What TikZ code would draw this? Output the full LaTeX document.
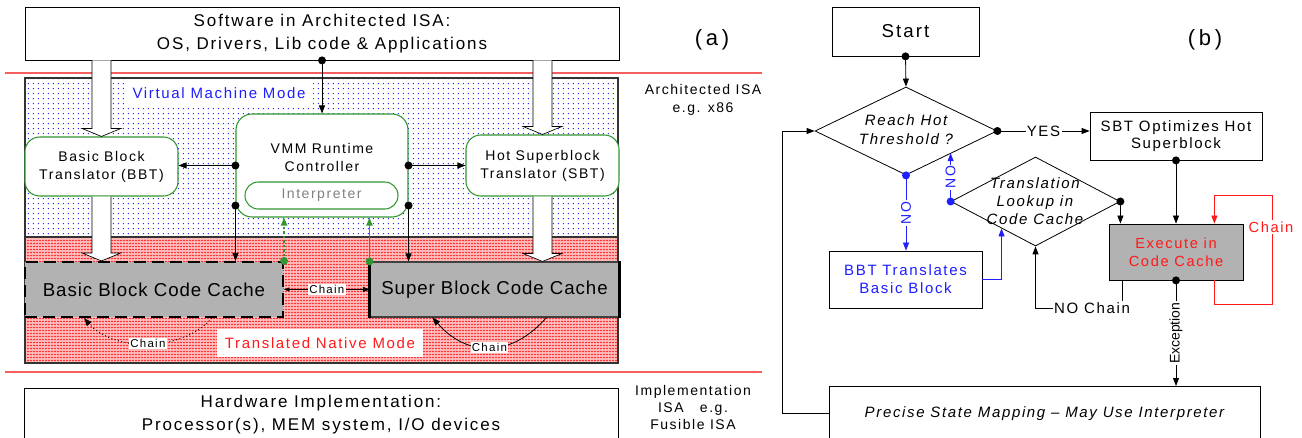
\documentclass[tikz,border=0pt]{standalone}
\usepackage{fontspec}
\setmainfont{Liberation Sans}[LetterSpace=11]
\usetikzlibrary{arrows.meta,calc,shapes.geometric,patterns.meta}
\newcommand\fsz[2]{\fontsize{#1pt}{#2pt}\selectfont}
\def\pxu{0.75pt}
\definecolor{vgreen}{RGB}{50,150,50}
\definecolor{vblue}{RGB}{30,30,255}
\definecolor{vred}{RGB}{255,25,25}
\definecolor{lred}{RGB}{245,95,95}
\definecolor{cgray}{RGB}{178,178,178}
\tikzdeclarepattern{
  name=bluedots, type=colored,
  bottom left={(0pt,0pt)}, top right={(4pt,4pt)}, tile size={(4pt,4pt)},
  code={\fill[blue!85] (1.5pt,1.5pt) rectangle (2.5pt,2.5pt);}
}
\tikzdeclarepattern{
  name=reddots, type=colored,
  bottom left={(0pt,0pt)}, top right={(2.2pt,2.2pt)}, tile size={(2.2pt,2.2pt)},
  code={\fill[red!80] (0.65pt,0.65pt) rectangle (1.55pt,1.55pt);}
}
\newcommand\dott[2][black]{\fill[#1] #2 circle[radius=3pt];}
\newcommand\hollow[2]{%
  \draw[fill=white, line width=0.5pt] ($#1+(-9.5,0)$) -- ($#2+(-9.5,-8)$) -- ($#2+(-19.5,-8)$) -- #2 -- ($#2+(19.5,-8)$) -- ($#2+(9.5,-8)$) -- ($#1+(9.5,0)$);}
\tikzset{
  box/.style={draw, fill=white, line width=0.6pt, inner sep=0pt, align=center},
  gbox/.style={draw=vgreen, fill=white, line width=0.8pt, rounded corners=11pt, inner sep=0pt, align=center},
  arr/.style={-{Triangle[length=6pt,width=4.5pt]}, line width=0.6pt},
  lbl/.style={fill=white, inner sep=1pt},
}
\begin{document}
\begin{tikzpicture}[x=0.75pt,y=-0.75pt]
\useasboundingbox (0,0) rectangle (1302,438);
\clip (0,0) rectangle (1302,438);
% ---------- (a) ----------
\fill[white] (25,78) rectangle (618,237);
\fill[pattern=bluedots] (25,78) rectangle (618,237);
\fill[red!24] (25,237) rectangle (618,363);
\fill[pattern=reddots] (25,237) rectangle (618,363);
\draw[gray!40!black, line width=0.8pt] (25,78) rectangle (618,363);
\draw[gray!40!black, line width=1.2pt] (25,237) -- (618,237);
\draw[lred, line width=0.8pt] (5,73) -- (762,73);
\draw[lred, line width=0.8pt] (5,372) -- (762,372);

\node[fill=white, text=vblue, inner xsep=6pt, inner ysep=6pt, font=\fsz{11.25}{13}] (vmmode) at (219,93) {Virtual Machine Mode};
\node[fill=white, text=vred, inner xsep=6pt, inner ysep=6pt, font=\fsz{11.25}{13}] (tnmode) at (320,343) {Translated Native Mode};

\node[box, minimum width=594*\pxu, minimum height=53*\pxu, font=\fsz{12.75}{17.25}] (sw) at (322,33.5) {Software in Architected ISA:\\OS, Drivers, Lib code \& Applications};
\node[box, anchor=north, minimum width=594*\pxu, minimum height=52*\pxu, font=\fsz{12.75}{17.25}] (hw) at (321,388) {Hardware Implementation:\\Processor(s), MEM system, I/O devices};

\node[gbox, minimum width=153*\pxu, minimum height=59*\pxu, font=\fsz{10.5}{13.5}] (bbt) at (101.5,166.5) {Basic Block\\Translator (BBT)};
\node[gbox, rounded corners=12pt, minimum width=172*\pxu, minimum height=103*\pxu] (vmm) at (322,165.5) {};
\node[align=center, font=\fsz{10.5}{13.5}] (vmmt) at (322,157) {VMM Runtime\\Controller};
\node[gbox, rounded corners=10pt, minimum width=153*\pxu, minimum height=27*\pxu, text=gray, font=\fsz{10.5}{12}] (interp) at (321.5,195.5) {Interpreter};
\node[gbox, minimum width=153*\pxu, minimum height=61*\pxu, font=\fsz{10.5}{13.5}] (sbt) at (542.5,165.5) {Hot Superblock\\Translator (SBT)};

\node[draw, fill=cgray, line width=1.6pt, dash pattern=on 9pt off 4.5pt, minimum width=258*\pxu, minimum height=55*\pxu, inner sep=0pt, font={\fsz{14}{16}\addfontfeature{LetterSpace=5}}] (bbc) at (154,289.5) {Basic Block Code Cache};
\node[draw=gray!50!black, fill=cgray, line width=0.8pt, minimum width=249*\pxu, minimum height=55*\pxu, inner sep=0pt, font={\fsz{14}{16}\addfontfeature{LetterSpace=5}}] (sbc) at (494.5,289.5) {Super Block Code Cache};
\draw[line width=1.6pt] (sbc.north west) -- (sbc.south west);
\draw[line width=1.6pt] (sbc.north east) -- (sbc.south east);

\hollow{(sw.south -| bbt.north)}{(bbt.north)}
\hollow{(bbt.south)}{(bbt.south |- bbc.north)}
\hollow{(sw.south -| sbt.north)}{(sbt.north)}
\hollow{(sbt.south)}{(sbt.south |- sbc.north)}

\draw[arr] (sw.south) -- (vmm.north); \dott{(sw.south)}
\draw[arr] (vmm.west) -- (vmm.west -| bbt.east); \dott{(vmm.west)}
\draw[arr] (vmm.east) -- (vmm.east -| sbt.west); \dott{(vmm.east)}
\coordinate (vl) at ([yshift=9pt]vmm.south west);
\coordinate (vr) at ([yshift=9pt]vmm.south east);
\draw[arr] (vl) -- (vl |- bbc.north); \dott{(vl)}
\draw[arr] (vr) -- (vr |- sbc.north); \dott{(vr)}
\draw[arr, vgreen, line width=1.8pt, dash pattern=on 1.8pt off 1.6pt] (bbc.north east) -- (bbc.north east |- vmm.south); \dott[vgreen]{(bbc.north east)}
\draw[arr, vgreen, line width=1.4pt] (sbc.north west) -- (sbc.north west |- vmm.south); \dott[vgreen]{(sbc.north west)}

\draw[{Triangle[length=4pt,width=3pt]}-{Triangle[length=5pt,width=4pt]}, line width=0.4pt] (bbc.east) -- (sbc.west) node[lbl, midway, font=\fsz{8.6}{10}] (ch1) {Chain};
\coordinate (c1s) at ($(bbc.south west)+(188,0)$);
\coordinate (c1e) at ($(bbc.south west)+(60,0)$);
\draw[arr, dotted, line width=0.8pt] (c1s) .. controls +(-30,34) and +(30,34) .. (c1e) node[lbl, pos=0.5, font=\fsz{8.6}{10}] (ch2) {Chain};
\coordinate (c2s) at ($(sbc.south west)+(177,0)$);
\coordinate (c2e) at ($(sbc.south west)+(63,0)$);
\draw[arr] (c2s) .. controls +(-35,40) and +(35,40) .. (c2e) node[lbl, pos=0.5, font=\fsz{8.6}{10}] (ch3) {Chain};

\node[font=\fsz{16.5}{18}] (la) at (712,40) {(\,a\,)};
\node[align=center, font=\fsz{10.5}{13.5}] (aisa) at (703,100) {Architected ISA\\e.g. x86};
\node[align=center, font=\fsz{10.5}{13}] (iisa) at (693,407.5) {Implementation\\ISA~~~e.g.\\Fusible ISA};

% ---------- (b) ----------
\node[box, minimum width=147*\pxu, minimum height=49*\pxu, font=\fsz{14}{16}] (start) at (905.5,31.5) {Start};
\node[diamond, draw, line width=0.6pt, fill=white, minimum width=182*\pxu, minimum height=88*\pxu, inner sep=0pt] (reach) at (906,131) {};
\node[align=center, font=\fsz{11.25}{14.25}\itshape] (reacht) at (906,130) {Reach Hot\\Threshold ?};
\node[box, minimum width=172*\pxu, minimum height=48*\pxu, font=\fsz{11.25}{13}] (sbto) at (1176,136) {SBT Optimizes Hot\\Superblock};
\node[diamond, draw, line width=0.6pt, fill=white, minimum width=169*\pxu, minimum height=89*\pxu, inner sep=0pt] (trans) at (1035.5,201.5) {};
\node[align=center, font=\fsz{11.25}{13.5}\itshape] (transt) at (1035,201) {Translation\\Lookup in\\Code Cache};
\node[box, fill=cgray, minimum width=134*\pxu, minimum height=56*\pxu, text=vred, font=\fsz{11}{13.5}] (exec) at (1176,252) {Execute in\\Code Cache};
\node[box, minimum width=153*\pxu, minimum height=57*\pxu, text=vblue, font=\fsz{11.25}{13.5}] (bbtb) at (905.5,279.5) {BBT Translates\\Basic Block};
\node[box, anchor=north, minimum width=431*\pxu, minimum height=54*\pxu, font=\fsz{11.25}{13}\itshape] (prec) at (1044.5,386) {Precise State Mapping – May Use Interpreter};
\node[font=\fsz{16.5}{18}] (lb) at (1205,40) {(\,b\,)};

\draw[arr] (start.south) -- (reach.north); \dott{(start.south)}
\draw[arr] (reach.east) -- (reach.east -| sbto.west) node[lbl, midway, font=\fsz{11.25}{13}] (yes) {YES}; \dott{(reach.east)}
\draw[arr] (prec.west) -- ++(-46,0) |- (reach.west);
\draw[arr] (sbto.south) -- (sbto.south |- exec.north); \dott{(sbto.south)}
\draw[arr] (trans.east) -- (trans.east |- exec.north); \dott{(trans.east)}
\draw[arr, vblue] (reach.south) -- (reach.south |- bbtb.north) node[lbl, midway, rotate=90, font=\fsz{10.5}{12}] (no1) {NO}; \dott[vblue]{(reach.south)}
\draw[arr, vblue] (trans.west) -- (trans.west |- reach.south east) node[lbl, midway, rotate=90, font=\fsz{10.5}{12}] (no2) {NO}; \dott[vblue]{(trans.west)}
\draw[arr, vblue] (bbtb.east) -| ($(trans.west)!0.6!(trans.south)$);
\draw[arr] (exec.south) -- (exec.south |- prec.north) node[lbl, midway, rotate=90, font={\fsz{10.5}{12}\addfontfeature{LetterSpace=0}}] (exc) {Exception}; \dott{(exec.south)}
\draw[arr] ($(exec.south west)+(14,0)$) |- ($(trans.south)+(0,62)$) -- (trans.south);
\node[lbl, font=\fsz{11.25}{13}] (noch) at (1092,308) {NO Chain};
\draw[arr, vred] ($(exec.south east)+(-29,0)$) -- ++(0,24) -- ++(58,0) -- ++(0,-109) -- ++(-58,0) -- ($(exec.north east)+(-29,0)$);
\node[lbl, text=vred, font=\fsz{11}{13}] (rch) at (1271,227) {Chain};
\end{tikzpicture}
\end{document}
